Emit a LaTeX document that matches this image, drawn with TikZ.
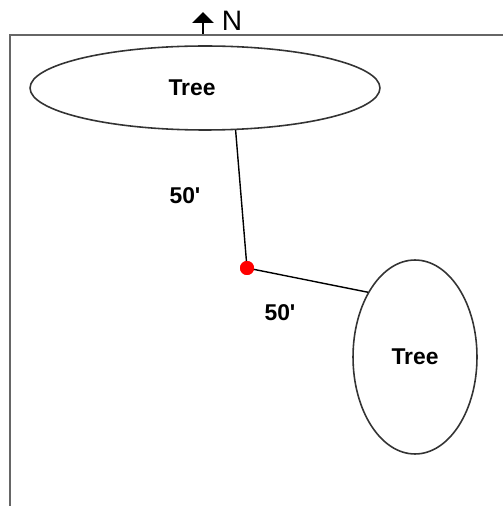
\documentclass[tikz,border=0pt]{standalone}
\usepackage{fontspec}
\setmainfont{Liberation Sans}
\usetikzlibrary{shapes.geometric,arrows.meta}

\begin{document}
\begin{tikzpicture}[x=0.02cm,y=-0.02cm,
  tree/.style={draw=black!80,line width=0.9pt,ellipse,inner sep=0pt,
    font=\fontsize{13}{15}\selectfont\bfseries},
  dist/.style={font=\fontsize{13}{15}\selectfont\bfseries},
  spot/.style={circle,fill=red,inner sep=0pt,minimum size=0.28cm}]
\useasboundingbox (0,0) rectangle (503,506);
% lot boundary
\draw[black!60,line width=1.2pt] (10,506) -- (10,35) -- (503,35);

% north marker
\coordinate (nbase) at (203,34);
\coordinate (ntip) at (203,12);
\draw[line width=1.6pt,-{Triangle[width=0.42cm,length=0.22cm]}] (nbase) -- (ntip);
\node[font=\fontsize{16}{18}\selectfont] (north) at (232,21) {N};

\node[tree,minimum width=7cm,minimum height=1.68cm] (treeA) at (205,88) {};
\node[dist] (labA) at (192,88) {Tree};
\node[tree,minimum width=2.48cm,minimum height=3.88cm] (treeB) at (415,357) {Tree};

\node[spot] (stake) at (247,268) {};
\draw[line width=0.8pt] (stake.center) -- (treeA.-54);
\draw[line width=0.8pt] (stake.center) -- (treeB.126);

\node[dist] (distA) at (185,196) {50\textquotesingle};
\node[dist] (distB) at (280,313) {50\textquotesingle};
\node[spot] at (stake) {};
\end{tikzpicture}
\end{document}
